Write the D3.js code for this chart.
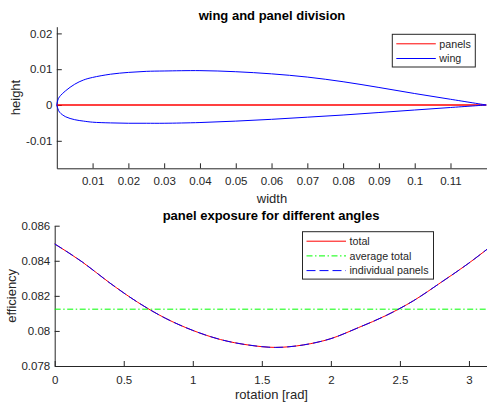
<!DOCTYPE html>
<html>
<head>
<meta charset="utf-8">
<script src="https://cdn.jsdelivr.net/npm/d3@7"></script>
<style>
  body { margin: 0; background: #fff; }
  svg { display: block; font-family: "Liberation Sans", Arial, Helvetica, sans-serif; }
</style>
</head>
<body>
<svg id="fig" width="487" height="410"></svg>
<script>
// ---- wing profile: chordwise stations and surface heights ----
const wingX     = [0, 0.0003, 0.00076, 0.0025, 0.005, 0.0075, 0.01, 0.015, 0.02, 0.025, 0.03, 0.04, 0.05, 0.06, 0.07, 0.08, 0.09, 0.10, 0.11, 0.12];
const wingUpper = [0, 0.0014, 0.0023, 0.0040, 0.0058, 0.0070, 0.0077, 0.0086, 0.0091, 0.0094, 0.0095, 0.0096, 0.0093, 0.0087, 0.0078, 0.0065, 0.0049, 0.0032, 0.0016, 0];
const wingLower = [0, -0.0010, -0.0020, -0.0033, -0.0041, -0.0045, -0.0048, -0.0050, -0.0051, -0.0051, -0.0051, -0.0049, -0.0045, -0.0040, -0.0034, -0.0028, -0.0021, -0.0014, -0.0007, 0];

// panel division along the chord
const panelX = [0, 0.12];
const panelY = [0, 0];

const wingXTicks = [0.01, 0.02, 0.03, 0.04, 0.05, 0.06, 0.07, 0.08, 0.09, 0.1, 0.11];
const wingYTicks = [-0.01, 0, 0.01, 0.02];

// ---- exposure efficiency versus rotation angle ----
const rotation = [0, 0.2, 0.4, 0.6, 0.8, 1.0, 1.2, 1.4, 1.6, 1.8, 2.0, 2.2, 2.4, 2.6, 2.8, 3.0, 3.1416];
const totalEff = [0.08496, 0.08393, 0.08273, 0.08164, 0.08073, 0.08003, 0.07951, 0.07920, 0.07906, 0.07920, 0.07956, 0.08019, 0.08088, 0.08173, 0.08278, 0.08387, 0.08472];
const panelEff = [0.08496, 0.08393, 0.08273, 0.08164, 0.08073, 0.08003, 0.07951, 0.07920, 0.07906, 0.07920, 0.07956, 0.08019, 0.08088, 0.08173, 0.08278, 0.08387, 0.08472];
const averageTotal = 0.08124;

const rotTicks = [0, 0.5, 1, 1.5, 2, 2.5, 3];
const effTicks = [0.078, 0.08, 0.082, 0.084, 0.086];

const INK = "#262626";
const svg = d3.select("#fig");
const fmt = d => String(+(+d).toFixed(4));

function styleAxis(g) {
  g.selectAll(".domain").attr("stroke", INK).attr("stroke-width", 1);
  g.selectAll(".tick line").attr("stroke", INK).attr("stroke-width", 1);
  g.selectAll(".tick text").attr("fill", INK).style("font-size", "11.5px");
}

// ================= top panel: wing and panel division =================
const x1 = d3.scaleLinear().domain([0, 0.1202]).range([56.8, 487]);
const y1 = d3.scaleLinear().domain([-0.01768, 0.02187]).range([168.3, 26.7]);

svg.append("g").attr("transform", `translate(0,${y1.range()[0]})`)
  .call(d3.axisBottom(x1).tickValues(wingXTicks).tickSizeInner(-5).tickSizeOuter(0).tickPadding(8.5).tickFormat(fmt))
  .call(styleAxis);
svg.append("g").attr("transform", `translate(${x1.range()[0]},0)`)
  .call(d3.axisLeft(y1).tickValues(wingYTicks).tickSizeInner(-5).tickSizeOuter(0).tickPadding(4.5).tickFormat(fmt))
  .call(styleAxis);

// closed outline: trailing edge -> upper surface -> leading edge -> lower surface -> trailing edge
const outline = [];
for (let i = wingX.length - 1; i >= 0; i--) outline.push([wingX[i], wingUpper[i]]);
for (let i = 1; i < wingX.length; i++) outline.push([wingX[i], wingLower[i]]);

const line1 = d3.line().x(d => x1(d[0])).y(d => y1(d[1]));

svg.append("path")
  .datum(panelX.map((v, i) => [v, panelY[i]]))
  .attr("d", line1)
  .attr("fill", "none").attr("stroke", "#ff0000").attr("stroke-width", 1.4);

svg.append("path")
  .datum(outline)
  .attr("d", line1.curve(d3.curveCatmullRom.alpha(0.5)))
  .attr("fill", "none").attr("stroke", "#0000ff").attr("stroke-width", 1);

svg.append("text").attr("x", 272).attr("y", 20).attr("text-anchor", "middle")
  .style("font-size", "13px").style("font-weight", "bold").attr("fill", "#000")
  .text("wing and panel division");
svg.append("text").attr("x", 272).attr("y", 203).attr("text-anchor", "middle")
  .style("font-size", "13px").attr("fill", INK).text("width");
svg.append("text").attr("transform", `translate(19.5,${(y1.range()[0] + y1.range()[1]) / 2}) rotate(-90)`)
  .attr("text-anchor", "middle").style("font-size", "13px").attr("fill", INK).text("height");

// legend
function legend(x0, y0, w, items) {
  const rowH = 14.7;
  const g = svg.append("g");
  g.append("rect").attr("x", x0).attr("y", y0).attr("width", w).attr("height", items.length * rowH + 3.3)
    .attr("fill", "#fff").attr("stroke", INK).attr("stroke-width", 1);
  items.forEach((it, i) => {
    const cy = y0 + 9.5 + i * rowH;
    g.append("line").attr("x1", x0 + 4).attr("x2", x0 + 43.5).attr("y1", cy).attr("y2", cy)
      .attr("stroke", it.color).attr("stroke-width", 1)
      .attr("stroke-dasharray", it.dash || null);
    g.append("text").attr("x", x0 + 47).attr("y", cy).attr("dy", "0.35em")
      .style("font-size", "10.7px").attr("fill", INK).text(it.label);
  });
}
legend(392.3, 34.3, 83, [
  { label: "panels", color: "#ff0000" },
  { label: "wing", color: "#0000ff" }
]);

// ================= bottom panel: exposure over rotation =================
const x2 = d3.scaleLinear().domain([0, Math.PI]).range([54.7, 488.5]);
const y2 = d3.scaleLinear().domain([0.078, 0.086]).range([366, 225.7]);

svg.append("g").attr("transform", `translate(0,${y2.range()[0]})`)
  .call(d3.axisBottom(x2).tickValues(rotTicks).tickSizeInner(-5).tickSizeOuter(0).tickPadding(10).tickFormat(fmt))
  .call(styleAxis);
svg.append("g").attr("transform", `translate(${x2.range()[0]},0)`)
  .call(d3.axisLeft(y2).tickValues(effTicks).tickSizeInner(-5).tickSizeOuter(0).tickPadding(4.5).tickFormat(fmt))
  .call(styleAxis);

const line2 = d3.line().x(d => x2(d[0])).y(d => y2(d[1])).curve(d3.curveMonotoneX);

svg.append("path")
  .datum(rotation.map((r, i) => [r, totalEff[i]]))
  .attr("d", line2)
  .attr("fill", "none").attr("stroke", "#ff0000").attr("stroke-width", 1);

svg.append("path")
  .datum([[0, averageTotal], [Math.PI, averageTotal]])
  .attr("d", line2)
  .attr("fill", "none").attr("stroke", "#00ff00").attr("stroke-width", 1)
  .attr("stroke-dasharray", "6,2.5,1.5,2.5");

svg.append("path")
  .datum(rotation.map((r, i) => [r, panelEff[i]]))
  .attr("d", line2)
  .attr("fill", "none").attr("stroke", "#0000ff").attr("stroke-width", 1)
  .attr("stroke-dasharray", "9,4");

svg.append("text").attr("x", 271).attr("y", 220).attr("text-anchor", "middle")
  .style("font-size", "13px").style("font-weight", "bold").attr("fill", "#000")
  .text("panel exposure for different angles");
svg.append("text").attr("x", 271.5).attr("y", 399).attr("text-anchor", "middle")
  .style("font-size", "13px").attr("fill", INK).text("rotation [rad]");
svg.append("text").attr("transform", `translate(15.5,${(y2.range()[0] + y2.range()[1]) / 2}) rotate(-90)`)
  .attr("text-anchor", "middle").style("font-size", "13px").attr("fill", INK).text("efficiency");

legend(302.5, 231.7, 131, [
  { label: "total", color: "#ff0000" },
  { label: "average total", color: "#00ff00", dash: "6,2.5,1.5,2.5" },
  { label: "individual panels", color: "#0000ff", dash: "9,4" }
]);
</script>
</body>
</html>
